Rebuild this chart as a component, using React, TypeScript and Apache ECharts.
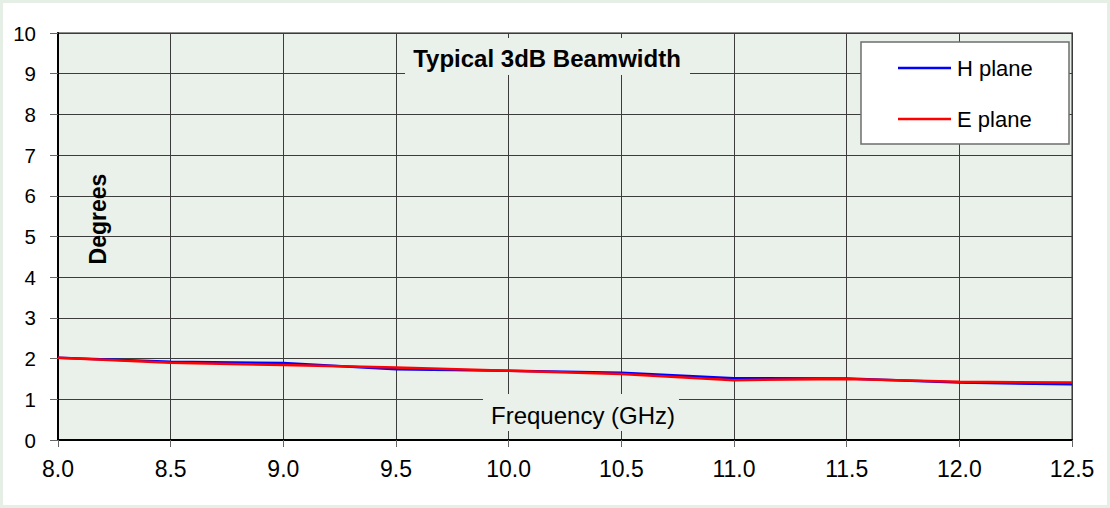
import React, { useEffect, useRef } from "react";
import * as echarts from "echarts";

const frequencies = [8.0, 8.5, 9.0, 9.5, 10.0, 10.5, 11.0, 11.5, 12.0, 12.5];
const hPlane = [2.02, 1.92, 1.89, 1.74, 1.7, 1.65, 1.52, 1.51, 1.41, 1.37];
const ePlane = [2.02, 1.9, 1.84, 1.78, 1.7, 1.62, 1.47, 1.5, 1.43, 1.41];
const seriesNames = ["H plane", "E plane"];

const FONT = "'Liberation Sans', Arial, sans-serif";
const PLOT_BG = "#eaf1ea";

export default function App() {
  const ref = useRef<HTMLDivElement>(null);
  useEffect(() => {
    document.body.style.margin = "0";
    if (!ref.current) return;
    const chart = echarts.init(ref.current, undefined, { renderer: "svg" });
    const toPairs = (ys: number[]) => frequencies.map((f, i) => [f, ys[i]]);
    chart.setOption({
      animation: false,
      backgroundColor: "#ffffff",
      grid: {
        left: 58,
        right: 38,
        top: 33,
        bottom: 68,
        show: true,
        backgroundColor: PLOT_BG,
        borderColor: "#8c8c8c",
        borderWidth: 2,
      },
      xAxis: {
        type: "value",
        min: 8,
        max: 12.5,
        interval: 0.5,
        axisLine: { show: true, onZero: false, lineStyle: { color: "#000", width: 2 } },
        axisTick: { show: true, length: 7, lineStyle: { color: "#666", width: 1 } },
        axisLabel: {
          margin: 17,
          fontSize: 23,
          color: "#000",
          fontFamily: FONT,
          formatter: (v: number) => v.toFixed(1),
        },
        splitLine: { show: true, lineStyle: { color: "#3c3c3c", width: 1 } },
      },
      yAxis: {
        type: "value",
        min: 0,
        max: 10,
        interval: 1,
        axisLine: { show: true, lineStyle: { color: "#000", width: 2 } },
        axisTick: { show: true, length: 8, lineStyle: { color: "#666", width: 1 } },
        axisLabel: { margin: 22, fontSize: 20.5, color: "#000", fontFamily: FONT },
        splitLine: { show: true, lineStyle: { color: "#3c3c3c", width: 1 } },
      },
      legend: {
        orient: "vertical",
        left: 898,
        top: 57,
        padding: 0,
        itemWidth: 53,
        itemHeight: 2.5,
        itemGap: 29,
        icon: "rect",
        z: 10,
        textStyle: { fontSize: 22, color: "#000", fontFamily: FONT, lineHeight: 22, padding: [0, 0, 0, 1] },
        data: seriesNames,
      },
      series: [
        {
          name: seriesNames[0],
          type: "line",
          data: toPairs(hPlane),
          symbol: "none",
          lineStyle: { color: "#0000ff", width: 2.5 },
          itemStyle: { color: "#0000ff" },
          z: 3,
        },
        {
          name: seriesNames[1],
          type: "line",
          data: toPairs(ePlane),
          symbol: "none",
          lineStyle: { color: "#ff0000", width: 2.5 },
          itemStyle: { color: "#ff0000" },
          z: 4,
        },
      ],
      graphic: [
        {
          type: "rect",
          z: 1,
          silent: true,
          shape: { x: 0, y: 0, width: 1110, height: 508 },
          style: { fill: "none", stroke: "#e6efe6", lineWidth: 6 },
        },
        {
          type: "rect",
          z: 5,
          shape: { x: 405, y: 38, width: 285, height: 37 },
          style: { fill: PLOT_BG },
        },
        {
          type: "text",
          z: 6,
          x: 547,
          y: 58,
          style: {
            text: "Typical 3dB Beamwidth",
            fontSize: 24,
            fontWeight: "bold",
            fontFamily: FONT,
            fill: "#000",
            align: "center",
            verticalAlign: "middle",
          },
        },
        {
          type: "rect",
          z: 5,
          shape: { x: 483, y: 394, width: 196, height: 37 },
          style: { fill: PLOT_BG },
        },
        {
          type: "text",
          z: 6,
          x: 583,
          y: 415,
          style: {
            text: "Frequency (GHz)",
            fontSize: 24,
            fontFamily: FONT,
            fill: "#000",
            align: "center",
            verticalAlign: "middle",
          },
        },
        {
          type: "text",
          z: 6,
          x: 98,
          y: 219,
          rotation: Math.PI / 2,
          style: {
            text: "Degrees",
            fontSize: 23,
            fontWeight: "bold",
            fontFamily: FONT,
            fill: "#000",
            align: "center",
            verticalAlign: "middle",
          },
        },
        {
          type: "rect",
          z: 5,
          shape: { x: 861, y: 42, width: 208, height: 102 },
          style: { fill: "#ffffff", stroke: "#6e6e6e", lineWidth: 1.5 },
        },
      ],
    });
    return () => chart.dispose();
  }, []);
  return (
    <div
      ref={ref}
      style={{ position: "absolute", left: 0, top: 0, width: 1110, height: 508 }}
    />
  );
}
